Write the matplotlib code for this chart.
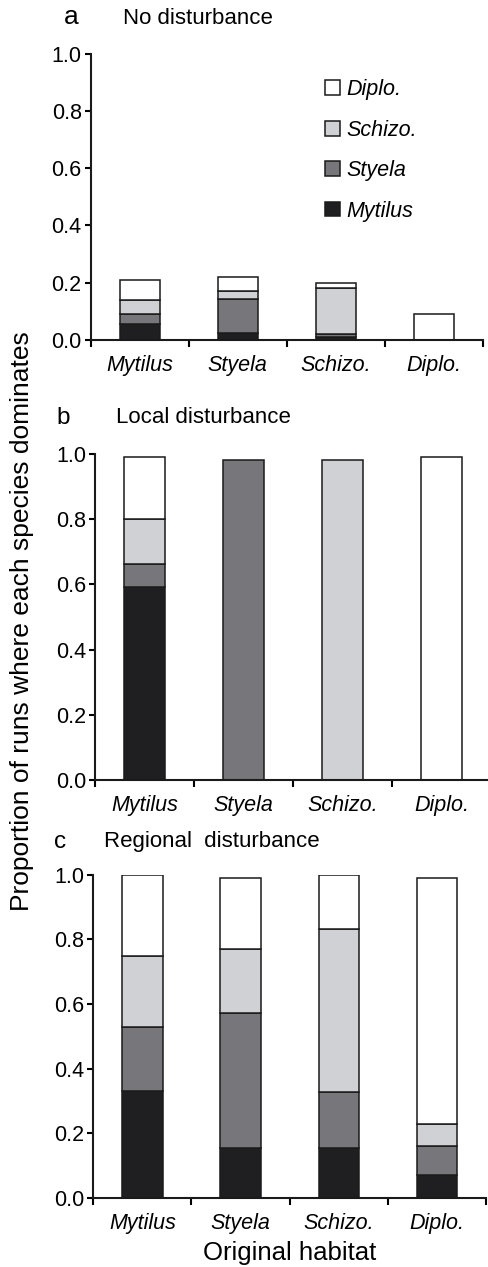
import numpy as np
import matplotlib
matplotlib.use('Agg')
from matplotlib import pyplot as plt
from matplotlib.patches import Patch

plt.rcParams['font.family'] = ['Liberation Sans', 'DejaVu Sans']

habitats = ['Mytilus', 'Styela', 'Schizo.', 'Diplo.']
species = ['Mytilus', 'Styela', 'Schizo.', 'Diplo.']
colors = ['#1f1f22', '#77767b', '#d0d1d5', '#ffffff']

# share of runs won by each species, rows = species (bottom to top), cols = habitat
no_dist = [[0.056, 0.023, 0.012, 0.0],
           [0.035, 0.119, 0.010, 0.0],
           [0.049, 0.030, 0.161, 0.0],
           [0.070, 0.049, 0.015, 0.091]]
local_dist = [[0.593, 0.0, 0.0, 0.0],
              [0.070, 0.982, 0.0, 0.0],
              [0.137, 0.0, 0.982, 0.0],
              [0.191, 0.0, 0.0, 0.991]]
regional_dist = [[0.331, 0.153, 0.153, 0.071],
                 [0.198, 0.418, 0.175, 0.090],
                 [0.218, 0.200, 0.503, 0.067],
                 [0.253, 0.218, 0.169, 0.761]]

panels = [('a', 'No disturbance', no_dist),
          ('b', 'Local disturbance', local_dist),
          ('c', 'Regional  disturbance', regional_dist)]

# axes boxes in figure fraction
boxes = [[0.1855, 0.7316, 0.802, 0.2261],
         [0.1943, 0.3844, 0.810, 0.2573],
         [0.1908, 0.0547, 0.803, 0.2549]]
title_pos = [(71, 17, 123, 18, 19), (63, 418, 116, 417, 17.5), (60, 842, 104, 842, 17.5)]
fs = 15.5

fig = plt.figure(figsize=(4.89, 12.67), dpi=100)
x = np.arange(len(habitats))

for (letter, title, vals), box, tp in zip(panels, boxes, title_pos):
    ax = fig.add_axes(box)
    vals = np.array(vals)
    bottom = np.zeros(len(habitats))
    for i in range(len(species)):
        bars = ax.bar(x, vals[i], 0.41, bottom=bottom, color=colors[i],
                      edgecolor='#1a1a1a', linewidth=1.1, zorder=2)
        for b, v in zip(bars, vals[i]):
            if v <= 0:
                b.set_visible(False)
        bottom += vals[i]
    ax.set_xlim(-0.5, 3.5)
    ax.set_ylim(0, 1.0)
    ax.set_yticks([0, 0.2, 0.4, 0.6, 0.8, 1.0])
    ax.set_yticklabels(['0.0', '0.2', '0.4', '0.6', '0.8', '1.0'])
    ax.set_xticks(x)
    ax.set_xticklabels(habitats, style='italic')
    ax.set_xticks([-0.5, 0.5, 1.5, 2.5, 3.5], minor=True)
    ax.tick_params(axis='x', which='major', length=0, pad=11, labelsize=fs)
    ax.tick_params(axis='x', which='minor', length=5, width=1.5, direction='out')
    ax.tick_params(axis='y', length=4.5, width=1.5, pad=2, labelsize=fs)
    for s in ['top', 'right']:
        ax.spines[s].set_visible(False)
    for s in ['left', 'bottom']:
        ax.spines[s].set_linewidth(1.5)
        ax.spines[s].set_color('#1a1a1a')
    fig.text(tp[0] / 489, 1 - tp[1] / 1267, letter, fontsize=tp[4],
             ha='center', va='center')
    fig.text(tp[2] / 489, 1 - tp[3] / 1267, title, fontsize=16,
             ha='left', va='center')
    if letter == 'a':
        handles = [Patch(facecolor=colors[i], edgecolor='#1a1a1a', linewidth=1.1)
                   for i in range(3, -1, -1)]
        labels = [species[i] for i in range(3, -1, -1)]
        ax.legend(handles, labels, loc='upper left',
                  bbox_to_anchor=(0.598, 0.91), frameon=False,
                  handlelength=0.68, handleheight=0.68, handletextpad=0.32,
                  labelspacing=0.9, borderpad=0, borderaxespad=0,
                  prop={'style': 'italic', 'size': fs})

fig.text(22 / 489, 1 - 621 / 1267, 'Proportion of runs where each species dominates',
         rotation=90, ha='center', va='center', fontsize=19)
fig.text(290 / 489, 1 - 1253 / 1267, 'Original habitat', ha='center', va='center',
         fontsize=18.5)

fig.savefig('out.png', dpi=100)
